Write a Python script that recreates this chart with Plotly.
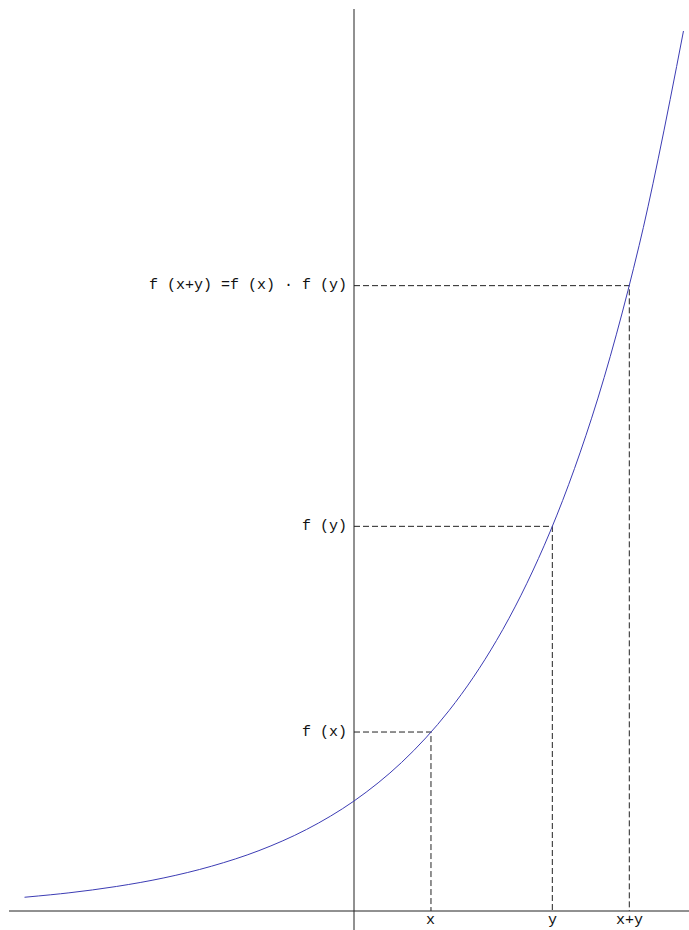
import plotly.graph_objects as go

# Curve points (t, f(t))
curve_t = [-2.08, -1.8, -1.5, -1.2, -0.9, -0.6, -0.3, 0.0, 0.3, 0.6, 0.9, 1.2, 1.5, 1.8, 2.08]
curve_f = [0.125, 0.165, 0.223, 0.301, 0.407, 0.549, 0.741, 1.0, 1.35, 1.822, 2.46, 3.32, 4.48, 6.05, 8.0]

# Marked points
point_x = [0.486, 1.252, 1.738]
point_f = [1.627, 3.497, 5.685]
x_labels = ["x", "y", "x+y"]
y_labels = ["f (x)", "f (y)", "f (x+y) =f (x) · f (y)"]

W, H = 689, 930
PX_X = 158.4   # pixels per x unit
PX_Y = 110.0   # pixels per y unit
X0_PX, Y0_PX = 354, 911
x_range = [-X0_PX / PX_X, (W - X0_PX) / PX_X]
y_range = [(Y0_PX - H) / PX_Y, Y0_PX / PX_Y]

fig = go.Figure()

# axes
fig.add_trace(go.Scatter(x=[(9 - X0_PX) / PX_X, x_range[1]], y=[0, 0], mode="lines",
                         line=dict(color="#222222", width=1), hoverinfo="skip"))
fig.add_trace(go.Scatter(x=[0, 0], y=[y_range[0], (Y0_PX - 9) / PX_Y], mode="lines",
                         line=dict(color="#222222", width=1), hoverinfo="skip"))

# dashed guides
for px, pf in zip(point_x, point_f):
    fig.add_trace(go.Scatter(x=[0, px, px], y=[pf, pf, 0], mode="lines",
                             line=dict(color="#222222", width=1, dash="6px,3px"),
                             hoverinfo="skip"))

# curve
fig.add_trace(go.Scatter(x=curve_t, y=curve_f, mode="lines",
                         line=dict(color="rgb(60,60,180)", width=1, shape="spline"),
                         hoverinfo="skip"))

font = dict(family="Liberation Mono, DejaVu Sans Mono, monospace", size=15, color="#111111")
for pf, lab in zip(point_f, y_labels):
    fig.add_annotation(x=0, y=pf, text=lab, showarrow=False, xanchor="right",
                       yanchor="middle", xshift=-5, font=font)
for px, lab in zip(point_x, x_labels):
    fig.add_annotation(x=px, y=0, text=lab, showarrow=False, xanchor="center",
                       yanchor="top", yshift=0, borderpad=0, font=font)

fig.update_layout(
    width=W, height=H, margin=dict(l=0, r=0, t=0, b=0),
    paper_bgcolor="white", plot_bgcolor="white", showlegend=False,
    xaxis=dict(range=x_range, visible=False, fixedrange=True),
    yaxis=dict(range=y_range, visible=False, fixedrange=True),
)

fig.write_html("out.html")
